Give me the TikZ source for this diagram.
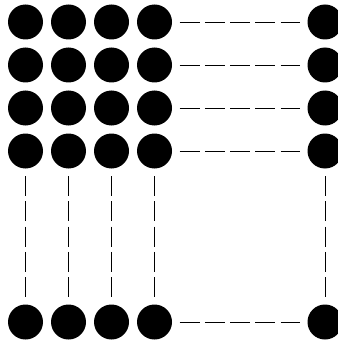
\documentclass[tikz,border=0pt]{standalone}
\usepackage{tikz}
\usetikzlibrary{positioning}

\begin{document}
\begin{tikzpicture}[node distance=43pt, on grid,
    dot/.style={circle, fill=black, minimum size=35pt, inner sep=0pt},
    gap/.style={line width=0.8pt, dash pattern=on 20pt off 5.25pt, shorten >=7.5pt, shorten <=7.5pt}]
    \useasboundingbox (-25.5pt,22pt) rectangle (311.5pt,-320pt);

    % first row
    \node[dot] (D11) {};
    \node[dot] (D12) [right=of D11] {};
    \node[dot] (D13) [right=of D12] {};
    \node[dot] (D14) [right=of D13] {};
    \node[dot] (D15) [right=170.5pt of D14] {};
    % second row
    \node[dot] (D21) [below=of D11] {};
    \node[dot] (D22) [right=of D21] {};
    \node[dot] (D23) [right=of D22] {};
    \node[dot] (D24) [right=of D23] {};
    \node[dot] (D25) [right=170.5pt of D24] {};
    % third row
    \node[dot] (D31) [below=of D21] {};
    \node[dot] (D32) [right=of D31] {};
    \node[dot] (D33) [right=of D32] {};
    \node[dot] (D34) [right=of D33] {};
    \node[dot] (D35) [right=170.5pt of D34] {};
    % fourth row
    \node[dot] (D41) [below=of D31] {};
    \node[dot] (D42) [right=of D41] {};
    \node[dot] (D43) [right=of D42] {};
    \node[dot] (D44) [right=of D43] {};
    \node[dot] (D45) [right=170.5pt of D44] {};
    % last row
    \node[dot] (D51) [below=171pt of D41] {};
    \node[dot] (D52) [right=of D51] {};
    \node[dot] (D53) [right=of D52] {};
    \node[dot] (D54) [right=of D53] {};
    \node[dot] (D55) [right=170.5pt of D54] {};

    \path[gap]
    (D14) edge (D15)
    (D24) edge (D25)
    (D34) edge (D35)
    (D44) edge (D45)
    (D54) edge (D55)
    (D41) edge (D51)
    (D42) edge (D52)
    (D43) edge (D53)
    (D44) edge (D54)
    (D45) edge (D55);
\end{tikzpicture}
\end{document}
